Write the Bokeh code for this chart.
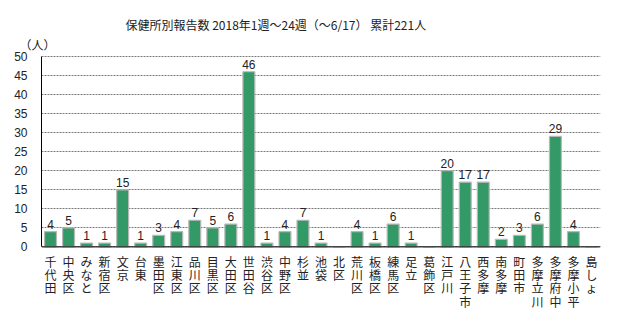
from bokeh.plotting import figure
from bokeh.models import ColumnDataSource, FixedTicker, Span, Title
from bokeh.core.properties import value
from bokeh.embed import file_html
from bokeh.resources import INLINE

districts = ["千代田", "中央区", "みなと", "新宿区", "文京", "台東", "墨田区", "江東区", "品川区",
             "目黒区", "大田区", "世田谷", "渋谷区", "中野区", "杉並", "池袋", "北区", "荒川区",
             "板橋区", "練馬区", "足立", "葛飾区", "江戸川", "八王子市", "西多摩", "南多摩",
             "町田市", "多摩立川", "多摩府中", "多摩小平", "島しょ"]
counts = [4, 5, 1, 1, 15, 1, 3, 4, 7, 5, 6, 46, 1, 4, 7, 1, 0, 4, 1, 6, 1, 0,
          20, 17, 17, 2, 3, 6, 29, 4, 0]
y_ticks = [0, 5, 10, 15, 20, 25, 30, 35, 40, 45, 50]
title_text = "保健所別報告数  2018年1週～24週（～6/17） 累計221人"
unit_text = "（人）"

JP = "Noto Sans CJK JP"

# frame runs to the bottom of the canvas so the vertical labels fit under the axis
p = figure(width=640, height=324, x_range=districts, y_range=(-20.38, 51.05),
           output_backend="svg", toolbar_location=None,
           min_border_left=41, min_border_right=40, min_border_top=52, min_border_bottom=0)

p.title.text = title_text
p.title.text_font = JP
p.title.text_font_size = "12px"
p.title.text_font_style = "normal"
p.title.text_color = "#222222"
p.title.align = "left"
p.title.offset = 84
p.title.standoff = 2

p.add_layout(Title(text=unit_text, text_font=JP, text_font_size="12px", text_color="#222222",
                   text_font_style="normal", align="left", offset=-22, standoff=0), "above")

src = ColumnDataSource(dict(x=districts, y=counts))
p.vbar(x="x", top="y", width=0.66, source=src, fill_color="#339966",
       line_color="#b8b8b8", line_width=1.2)

lab_x = [d for d, c in zip(districts, counts) if c > 0]
lab_y = [c for c in counts if c > 0]
lab_t = [str(c) for c in counts if c > 0]
lsrc = ColumnDataSource(dict(x=lab_x, y=lab_y, t=lab_t))
p.text(x="x", y="y", text="t", source=lsrc, y_offset=-3, text_align="center",
       text_baseline="bottom", text_font=value("Liberation Sans"), text_font_size="12px",
       text_color="#222222")

csrc = ColumnDataSource(dict(x=districts, y=[0] * len(districts),
                             t=["\n".join(list(d)) for d in districts]))
p.text(x="x", y="y", text="t", source=csrc, y_offset=6, text_align="center",
       text_baseline="top", text_font=value(JP), text_font_size="12px",
       text_line_height=0.78, text_color="#222222")

p.add_layout(Span(location=0, dimension="width", line_color="black", line_width=1))

p.outline_line_color = None
p.xgrid.grid_line_color = None
p.ygrid.grid_line_color = "#7a7a7a"
p.ygrid.grid_line_dash = "2 1"
p.ygrid.grid_line_width = 1
p.ygrid.ticker = FixedTicker(ticks=y_ticks)

p.yaxis.ticker = FixedTicker(ticks=y_ticks)
p.yaxis.bounds = (0, 50)
p.yaxis.axis_line_color = "black"
p.yaxis.major_tick_line_color = None
p.yaxis.minor_tick_line_color = None
p.yaxis.major_label_text_font = "Liberation Sans"
p.yaxis.major_label_text_font_size = "12px"
p.yaxis.major_label_text_color = "#222222"
p.yaxis.major_label_standoff = 8

p.xaxis.visible = False

open("out.html", "w").write(file_html(p, INLINE))
